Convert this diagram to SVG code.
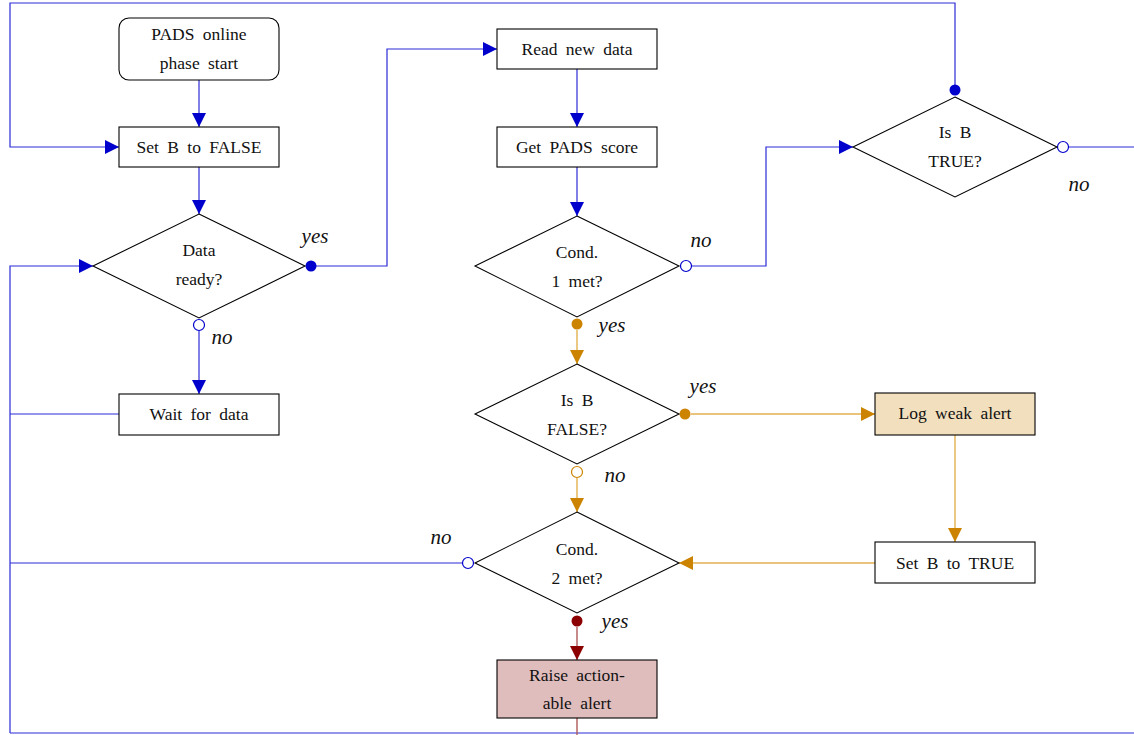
<svg xmlns="http://www.w3.org/2000/svg" width="1134" height="735" viewBox="0 0 1134 735">
<defs>
<style>
.box{fill:#fff;stroke:#000;stroke-width:1.1}
.t{font-family:"Liberation Serif","DejaVu Serif",serif;font-size:17.5px;text-anchor:middle;fill:#111;word-spacing:4px}
.lab{font-family:"Liberation Serif","DejaVu Serif",serif;font-size:21px;font-style:italic;text-anchor:middle;fill:#111}
.b{fill:none;stroke:#2a2ad6;stroke-width:1.2}
.o{fill:none;stroke:#e3b050;stroke-width:1.4}
.r{fill:none;stroke:#b05a5a;stroke-width:1.4}
</style>
<marker id="ab" viewBox="0 0 10 10" refX="10" refY="5" markerWidth="14" markerHeight="14" markerUnits="userSpaceOnUse" orient="auto"><path d="M0,0L10,5L0,10z" fill="#0000cc"/></marker>
<marker id="ao" viewBox="0 0 10 10" refX="10" refY="5" markerWidth="14" markerHeight="14" markerUnits="userSpaceOnUse" orient="auto"><path d="M0,0L10,5L0,10z" fill="#cc8400"/></marker>
<marker id="ar" viewBox="0 0 10 10" refX="10" refY="5" markerWidth="14" markerHeight="14" markerUnits="userSpaceOnUse" orient="auto"><path d="M0,0L10,5L0,10z" fill="#8b0000"/></marker>
</defs>
<rect width="1134" height="735" fill="#fff"/>
<g id="connectors">
<path class="b" d="M955,90V3H10V147H119" marker-end="url(#ab)"/>
<path class="b" d="M199,80V127" marker-end="url(#ab)"/>
<path class="b" d="M199,167V214" marker-end="url(#ab)"/>
<path class="b" d="M311,266H387V49H497" marker-end="url(#ab)"/>
<path class="b" d="M199,331V394" marker-end="url(#ab)"/>
<path class="b" d="M119,414H10"/>
<path class="b" d="M10,733V266H93" marker-end="url(#ab)"/>
<path class="b" d="M577,69V127" marker-end="url(#ab)"/>
<path class="b" d="M577,167V216" marker-end="url(#ab)"/>
<path class="b" d="M691,266H766V147H853" marker-end="url(#ab)"/>
<path class="b" d="M1068,147H1134"/>
<path class="b" d="M463,563H10"/>
<path class="b" d="M10,733H1134"/>
<path class="o" d="M577,330V364" marker-end="url(#ao)"/>
<path class="o" d="M691,414H875" marker-end="url(#ao)"/>
<path class="o" d="M577,478V512" marker-end="url(#ao)"/>
<path class="o" d="M955,435V542" marker-end="url(#ao)"/>
<path class="o" d="M875,563H679" marker-end="url(#ao)"/>
<path class="r" d="M577,627V660" marker-end="url(#ar)"/>
<path class="r" d="M577,718V735"/>
<circle cx="955" cy="90" r="5.5" fill="#0000cc"/>
<circle cx="311" cy="266" r="5.5" fill="#0000cc"/>
<circle cx="199" cy="325" r="5.5" fill="#fff" stroke="#0000cc" stroke-width="1.2"/>
<circle cx="686" cy="266" r="5.5" fill="#fff" stroke="#0000cc" stroke-width="1.2"/>
<circle cx="1063" cy="147" r="5.5" fill="#fff" stroke="#0000cc" stroke-width="1.2"/>
<circle cx="468" cy="563" r="5.5" fill="#fff" stroke="#0000cc" stroke-width="1.2"/>
<circle cx="577" cy="324" r="5.5" fill="#cc8400"/>
<circle cx="685" cy="414" r="5.5" fill="#cc8400"/>
<circle cx="577" cy="472" r="5.5" fill="#fff" stroke="#cc8400" stroke-width="1.2"/>
<circle cx="577" cy="621" r="5.5" fill="#8b0000"/>
<text class="lab" x="315" y="243">yes</text>
<text class="lab" x="222" y="344">no</text>
<text class="lab" x="701" y="247">no</text>
<text class="lab" x="612" y="332">yes</text>
<text class="lab" x="703" y="393">yes</text>
<text class="lab" x="615" y="482">no</text>
<text class="lab" x="441" y="544">no</text>
<text class="lab" x="615" y="628">yes</text>
<text class="lab" x="1079" y="191">no</text>
</g>
<g id="start"><rect class="box" x="119" y="18" width="160" height="62" rx="10"/><text class="t" x="199" y="40">PADS online</text><text class="t" x="199" y="69">phase start</text></g>
<g id="setfalse"><rect class="box" x="119" y="127" width="160" height="40"/><text class="t" x="199" y="153">Set B to FALSE</text></g>
<g id="dataready"><path class="box" d="M199,214L305,266L199,318L93,266z"/><text class="t" x="199" y="256">Data</text><text class="t" x="199" y="285">ready?</text></g>
<g id="wait"><rect class="box" x="119" y="394" width="160" height="41"/><text class="t" x="199" y="420">Wait for data</text></g>
<g id="readnew"><rect class="box" x="497" y="29" width="160" height="40"/><text class="t" x="577" y="55">Read new data</text></g>
<g id="getscore"><rect class="box" x="497" y="127" width="160" height="40"/><text class="t" x="577" y="153">Get PADS score</text></g>
<g id="cond1"><path class="box" d="M577,216L679,266L577,317L475,266z"/><text class="t" x="577" y="258">Cond.</text><text class="t" x="577" y="287">1 met?</text></g>
<g id="isbfalse"><path class="box" d="M577,364L679,414L577,464L475,414z"/><text class="t" x="577" y="406">Is B</text><text class="t" x="577" y="435">FALSE?</text></g>
<g id="cond2"><path class="box" d="M577,512L679,563L577,613L475,563z"/><text class="t" x="577" y="555">Cond.</text><text class="t" x="577" y="584">2 met?</text></g>
<g id="isbtrue"><path class="box" d="M955,97L1057,147L955,197L853,147z"/><text class="t" x="955" y="138">Is B</text><text class="t" x="955" y="167">TRUE?</text></g>
<g id="logweak"><rect class="box" x="875" y="393" width="160" height="42" style="fill:#f2dfbd"/><text class="t" x="955" y="419">Log weak alert</text></g>
<g id="settrue"><rect class="box" x="875" y="542" width="160" height="41"/><text class="t" x="955" y="569">Set B to TRUE</text></g>
<g id="raise"><rect class="box" x="497" y="660" width="160" height="58" style="fill:#e0bdbd"/><text class="t" x="577" y="681">Raise action-</text><text class="t" x="577" y="709">able alert</text></g>
</svg>
